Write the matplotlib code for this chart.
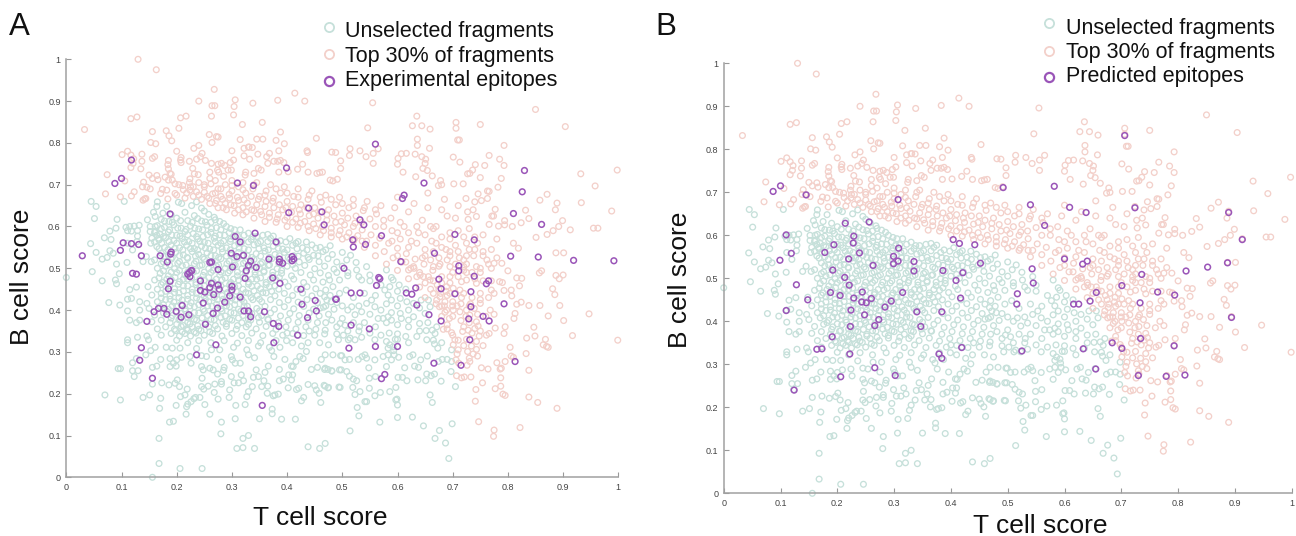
import numpy as np
import matplotlib
matplotlib.use('Agg')
import matplotlib.pyplot as plt
from matplotlib.lines import Line2D

plt.rcParams['font.family'] = ['Liberation Sans', 'DejaVu Sans']

# fragments (T cell score, B cell score), the same cloud sits in both panels
unselected = np.array([
    # sparse left and lower edge
    (0,.478),(.045,.66),(.054,.648),(.051,.619),(.105,.66),(.092,.617),(.09,.596),(.079,.589),(.069,.573),(.081,.569),
    (.044,.559),(.054,.538),(.079,.542),(.065,.522),(.074,.526),(.085,.536),(.091,.51),(.11,.514),(.047,.492),(.065,.47),
    (.089,.472),(.091,.463),(.096,.487),(.097,.412),(.077,.418),(.111,.426),(.118,.428),(.111,.398),(.115,.449),(.127,.455),
    (.115,.376),(.133,.42),(.146,.416),(.133,.4),(.127,.37),(.133,.376),(.129,.335),(.111,.329),(.111,.322),(.146,.338),
    (.149,.329),(.161,.311),(.153,.303),(.144,.293),(.171,.282),(.127,.284),(.12,.274),(.13,.255),(.12,.255),(.123,.241),
    (.094,.26),(.098,.26),(.156,.263),(.164,.266),(.156,.223),(.173,.226),(.186,.221),(.197,.225),(.201,.233),(.205,.217),
    (.07,.197),(.098,.185),(.139,.191),(.151,.197),(.171,.189),(.169,.165),(.207,.193),(.215,.197),(.219,.211),(.199,.172),
    (.234,.191),(.242,.191),(.251,.174),(.231,.188),(.226,.181),(.22,.175),(.218,.169),(.217,.151),(.26,.151),(.187,.132),
    (.194,.134),(.281,.132),(.28,.104),(.306,.14),(.307,.172),(.324,.174),(.32,.093),(.33,.1),(.309,.069),(.32,.071),
    (.341,.069),(.168,.093),(.168,.033),(.206,.021),(.246,.021),(.156,0),(.35,.14),(.39,.139),(.415,.139),(.373,.152),
    (.373,.163),(.438,.073),(.459,.069),(.469,.081),(.426,.183),(.43,.191),(.461,.179),(.438,.222),(.45,.219),(.453,.209),
    (.458,.201),(.467,.22),(.475,.215),(.494,.216),(.402,.214),(.417,.21),(.421,.213),(.408,.233),(.41,.245),(.403,.245),
    (.393,.235),(.386,.231),(.378,.197),(.375,.195),(.384,.199),(.364,.201),(.354,.217),(.365,.218),(.358,.231),(.337,.217),
    (.327,.193),(.33,.205),(.321,.231),(.312,.226),(.304,.226),(.296,.209),(.295,.191),(.268,.203),(.275,.187),(.257,.218),
    (.245,.217),(.249,.211),(.246,.237),(.269,.223),(.281,.223),(.281,.229),(.274,.247),(.266,.257),(.286,.263),(.285,.256),
    (.299,.241),(.317,.245),(.339,.239),(.348,.241),(.344,.257),(.36,.251),(.366,.266),(.386,.258),(.411,.265),(.396,.282),
    (.376,.289),(.372,.303),(.341,.286),(.33,.293),(.306,.273),(.315,.273),(.301,.281),(.299,.289),(.275,.282),(.254,.289),
    (.245,.265),(.248,.257),(.26,.261),(.226,.273),(.209,.287),(.2,.281),(.188,.265),(.188,.284),(.194,.273),(.199,.266),
    (.181,.311),(.192,.309),(.206,.309),(.224,.289),(.245,.291),(.236,.308),(.263,.305),(.278,.305),(.303,.311),(.327,.305),
    (.348,.314),(.368,.311),(.387,.311),(.399,.327),(.426,.314),(.435,.301),(.423,.289),(.429,.284),(.416,.277),(.408,.266),
    (.444,.258),(.455,.263),(.469,.261),(.481,.254),(.495,.257),(.462,.282),(.469,.293),(.483,.293),(.497,.291),(.438,.322),
    (.459,.322),(.475,.317),(.469,.352),(.49,.343),(.493,.329),
    # right hand side
    (.693,.045),(.687,.082),(.668,.093),(.676,.112),(.699,.128),(.647,.123),(.627,.144),(.6,.143),(.568,.132),(.514,.111),
    (.53,.147),(.527,.167),(.541,.181),(.544,.181),(.599,.187),(.6,.173),(.597,.185),(.663,.179),(.659,.197),(.705,.217),
    (.496,.215),(.469,.218),(.474,.214),(.519,.215),(.523,.198),(.532,.205),(.549,.213),(.559,.195),(.569,.203),(.586,.205),
    (.597,.215),(.52,.235),(.526,.231),(.549,.237),(.56,.241),(.601,.239),(.609,.239),(.617,.231),(.637,.233),(.651,.231),
    (.679,.23),(.667,.247),(.661,.243),(.653,.247),(.697,.253),(.513,.242),(.468,.258),(.474,.258),(.481,.255),(.498,.257),
    (.508,.253),(.548,.262),(.58,.265),(.613,.262),(.631,.266),(.638,.263),(.505,.281),(.513,.282),(.529,.282),(.536,.289),
    (.541,.293),(.544,.285),(.499,.291),(.559,.281),(.574,.289),(.583,.293),(.589,.281),(.594,.293),(.593,.303),(.583,.309),
    (.602,.287),(.622,.289),(.628,.293),(.642,.281),(.654,.29),(.681,.282),(.69,.282),(.698,.277),(.674,.277),(.653,.329),
    (.673,.309),(.667,.319),(.68,.322),(.698,.305),(.663,.352),(.668,.344),(.652,.351),(.671,.36),(.665,.328),(.635,.337),
    (.615,.337),(.6,.343),(.62,.322),(.58,.325),(.586,.317),(.592,.312),(.596,.33),(.523,.329),(.535,.335),(.511,.329),
    (.514,.333),(.502,.34),(.468,.343),(.559,.329),(.496,.368),(.505,.364),(.481,.376),(.531,.36),(.523,.389),(.565,.38),
    (.574,.38),(.583,.384),(.589,.376),(.589,.394),(.605,.392),(.607,.38),(.62,.376),(.629,.384),(.64,.368),(.65,.392),
    (.659,.408),(.656,.424),(.643,.424),(.629,.416),(.617,.42),(.605,.428),(.583,.436),(.589,.424),(.577,.448),(.586,.456),
    (.589,.478),(.58,.496),(.592,.472),(.553,.424),(.544,.416),(.559,.408),(.535,.396),(.517,.408),(.468,.432),(.483,.456),
    (.495,.472),(.477,.472),(.507,.448),(.526,.496),(.544,.504),(.55,.484),(.535,.472),(.603,.46),(.615,.45),(.6,.41),
    (.51,.49),(.53,.48),(.55,.47),(.57,.46),(.6,.445),(.52,.43),(.54,.44),(.56,.435),(.58,.415),(.62,.4),(.64,.405),(.51,.4),
    (.53,.41),(.55,.39),(.57,.4),(.58,.37),(.6,.365),(.62,.36),(.64,.35),(.655,.37),(.54,.37),(.56,.36),(.52,.37),(.5,.38),
    (.6,.33),(.585,.345),(.57,.34),(.55,.345),(.53,.35),(.51,.35),(.49,.36),(.47,.37),(.5,.41),(.48,.42),(.47,.41),(.46,.405),
    (.44,.35),(.45,.34),(.42,.34),(.4,.345),
    # dense core, read row by row
    (.182,.648),(.203,.658),(.209,.655),(.227,.65),(.236,.659),(.245,.644),(.175,.632),(.19,.628),(.215,.634),(.232,.626),
    (.25,.637),(.258,.629),(.268,.622),(.172,.617),(.186,.612),(.2,.62),(.22,.614),(.238,.619),(.252,.611),(.27,.616),
    (.285,.607),(.165,.602),(.178,.598),(.195,.604),(.208,.596),(.225,.601),(.24,.594),(.255,.603),(.272,.597),(.29,.6),
    (.305,.592),(.108,.598),(.115,.6),(.123,.601),(.132,.603),(.111,.59),(.118,.589),(.129,.59),(.129,.577),(.128,.564),
    (.12,.544),(.111,.56),(.147,.616),(.158,.634),(.161,.624),(.165,.659),(.164,.648),(.152,.6),(.161,.6),(.152,.588),
    (.161,.588),(.155,.572),(.167,.572),(.153,.56),(.164,.552),(.145,.528),(.154,.516),(.139,.516),
    (.16,.586),(.17,.581),(.185,.587),(.2,.579),(.215,.588),(.23,.583),(.248,.576),(.262,.586),(.278,.58),(.295,.585),
    (.31,.578),(.33,.584),(.345,.576),(.365,.581),(.168,.568),(.18,.573),(.195,.566),(.21,.571),(.222,.564),(.238,.57),
    (.25,.562),(.268,.572),(.285,.565),(.298,.57),(.318,.563),(.335,.569),(.352,.564),(.37,.572),(.388,.566),(.405,.571),
    (.42,.564),(.178,.55),(.19,.556),(.205,.549),(.218,.555),(.232,.547),(.245,.553),(.26,.546),(.275,.555),(.29,.549),
    (.305,.554),(.322,.547),(.34,.556),(.358,.549),(.375,.553),(.392,.546),(.41,.555),(.428,.549),(.445,.556),(.46,.55),
    (.478,.554),(.172,.536),(.185,.531),(.198,.538),(.212,.532),(.228,.54),(.24,.533),(.255,.537),(.27,.53),(.283,.539),
    (.298,.532),(.312,.538),(.328,.53),(.344,.535),(.36,.541),(.378,.533),(.395,.538),(.412,.53),(.43,.536),(.448,.531),
    (.465,.54),(.482,.533),(.5,.538),(.515,.531),(.16,.52),(.176,.515),(.19,.522),(.205,.516),(.22,.524),(.235,.517),
    (.25,.522),(.265,.515),(.28,.523),(.295,.517),(.31,.524),(.325,.516),(.34,.521),(.355,.514),(.372,.523),(.39,.516),
    (.405,.522),(.422,.515),(.44,.521),(.458,.516),(.474,.523),(.49,.515),(.508,.52),(.525,.514),(.165,.5),(.18,.505),
    (.196,.499),(.21,.506),(.226,.5),(.242,.507),(.258,.499),(.272,.505),(.288,.5),(.303,.507),(.318,.499),(.333,.505),
    (.35,.5),(.366,.507),(.382,.499),(.4,.505),(.415,.5),(.432,.507),(.45,.499),(.468,.505),(.485,.498),(.5,.505),
    (.17,.488),(.185,.482),(.2,.49),(.215,.484),(.23,.491),(.248,.483),(.262,.49),(.278,.484),(.293,.489),(.31,.482),
    (.325,.49),(.342,.484),(.358,.491),(.374,.483),(.39,.488),(.408,.482),(.425,.49),(.442,.484),(.46,.489),(.475,.483),
    (.49,.49),(.51,.482),(.16,.472),(.175,.466),(.19,.473),(.205,.468),(.22,.474),(.235,.466),(.25,.472),(.266,.467),
    (.282,.473),(.298,.466),(.312,.472),(.33,.467),(.345,.474),(.362,.466),(.38,.472),(.396,.467),(.412,.474),(.43,.466),
    (.448,.472),(.465,.467),(.148,.456),(.165,.45),(.18,.457),(.196,.451),(.212,.458),(.228,.45),(.242,.456),(.258,.45),
    (.272,.457),(.288,.451),(.305,.456),(.32,.45),(.336,.457),(.352,.451),(.368,.456),(.385,.45),(.402,.457),(.418,.45),
    (.436,.456),(.452,.451),(.47,.448),(.155,.436),(.172,.44),(.188,.434),(.204,.441),(.22,.435),(.236,.44),(.25,.434),
    (.265,.44),(.282,.435),(.298,.441),(.314,.434),(.33,.44),(.346,.435),(.362,.441),(.378,.434),(.395,.44),(.41,.435),
    (.428,.441),(.445,.434),(.46,.44),(.478,.435),(.495,.44),(.165,.42),(.18,.425),(.195,.419),(.21,.424),(.226,.418),
    (.242,.425),(.258,.42),(.274,.425),(.29,.418),(.306,.424),(.322,.419),(.338,.425),(.354,.42),(.37,.425),(.386,.418),
    (.402,.424),(.42,.419),(.436,.425),(.455,.418),(.472,.424),(.49,.418),(.15,.404),(.17,.408),(.185,.402),(.2,.409),
    (.215,.403),(.232,.408),(.248,.402),(.264,.409),(.28,.403),(.296,.408),(.312,.402),(.328,.409),(.345,.404),(.36,.409),
    (.377,.402),(.395,.408),(.412,.403),(.43,.409),(.448,.402),(.466,.407),(.485,.402),(.16,.388),(.176,.393),(.192,.387),
    (.208,.392),(.225,.386),(.24,.393),(.256,.387),(.272,.392),(.288,.386),(.304,.393),(.32,.387),(.336,.392),(.354,.387),
    (.37,.393),(.388,.386),(.405,.392),(.422,.387),(.44,.393),(.458,.386),(.475,.39),(.155,.372),(.172,.376),(.188,.37),
    (.204,.377),(.22,.371),(.236,.376),(.252,.37),(.268,.377),(.284,.371),(.3,.376),(.318,.37),(.334,.376),(.35,.371),
    (.366,.377),(.384,.37),(.402,.376),(.42,.371),(.438,.376),(.455,.37),(.165,.355),(.18,.36),(.196,.354),(.208,.361),
    (.218,.355),(.228,.36),(.24,.354),(.258,.36),(.274,.355),(.29,.361),(.308,.354),(.326,.36),(.344,.355),(.362,.361),
    (.38,.354),(.398,.36),(.416,.355),(.434,.36),(.452,.354),(.172,.34),(.19,.344),(.205,.338),(.215,.344),(.225,.338),
    (.235,.345),(.25,.34),(.265,.344),(.282,.338),(.3,.344),(.318,.339),(.336,.345),(.356,.339),(.374,.344),(.392,.34),
    (.41,.344),(.43,.339),(.2,.328),(.22,.322),(.24,.327),(.262,.322),(.286,.327),(.31,.321),(.33,.327),(.352,.322),
    (.38,.327),(.41,.322),
    # second pass over the core, where the rings overlap
    (.178,.613),(.192,.61),(.207,.614),(.228,.61),(.245,.613),(.262,.61),(.278,.612),(.172,.595),(.187,.592),(.202,.596),
    (.217,.593),(.233,.596),(.247,.592),(.263,.595),(.28,.592),(.298,.595),(.315,.592),(.164,.579),(.176,.576),(.191,.58),
    (.206,.577),(.22,.58),(.236,.576),(.256,.58),(.27,.577),(.287,.579),(.303,.576),(.322,.579),(.338,.576),(.356,.579),
    (.375,.577),(.16,.563),(.173,.56),(.186,.564),(.2,.56),(.214,.563),(.228,.56),(.242,.564),(.257,.56),(.27,.563),
    (.28,.56),(.297,.564),(.312,.56),(.33,.563),(.347,.56),(.365,.564),(.382,.56),(.398,.563),(.416,.56),(.435,.563),
    (.168,.547),(.184,.544),(.197,.548),(.211,.544),(.225,.547),(.238,.544),(.252,.548),(.267,.544),(.282,.547),(.297,.544),
    (.313,.548),(.33,.544),(.349,.547),(.366,.544),(.384,.548),(.4,.544),(.418,.547),(.436,.544),(.452,.548),(.47,.544),
    (.178,.529),(.192,.526),(.205,.53),(.219,.526),(.234,.529),(.247,.526),(.262,.53),(.276,.526),(.29,.529),(.304,.526),
    (.32,.53),(.336,.526),(.352,.529),(.368,.526),(.386,.53),(.402,.526),(.42,.529),(.438,.526),(.456,.53),(.172,.511),
    (.187,.508),(.202,.512),(.217,.508),(.232,.511),(.246,.508),(.261,.512),(.276,.508),(.291,.511),(.306,.508),(.321,.512),
    (.337,.508),(.352,.511),(.368,.508),(.385,.512),(.41,.509),(.176,.494),(.19,.491),(.205,.495),(.22,.491),(.236,.494),
    (.25,.491),(.266,.495),(.28,.491),(.296,.494),(.31,.491),(.326,.495),(.342,.491),(.358,.494),(.374,.491),(.39,.495),
    (.168,.477),(.182,.474),(.197,.478),(.212,.474),(.227,.477),(.242,.474),(.258,.478),(.272,.474),(.288,.477),(.303,.474),
    (.32,.478),(.336,.474),(.352,.477),(.37,.474),(.386,.478),(.172,.461),(.187,.458),(.203,.462),(.22,.458),(.235,.461),
    (.25,.458),(.265,.462),(.28,.458),(.296,.461),(.312,.458),(.33,.462),(.346,.458),(.362,.461),(.378,.458),(.18,.445),
    (.196,.442),(.212,.446),(.228,.442),(.244,.445),(.26,.442),(.276,.446),(.292,.442),(.308,.445),(.325,.442),(.34,.446),
    (.356,.442),(.372,.445),(.172,.429),(.188,.426),(.204,.43),(.22,.426),(.236,.429),(.252,.426),(.268,.43),(.284,.426),
    (.3,.429),(.318,.426),(.335,.43),(.35,.426),(.176,.413),(.192,.41),(.208,.414),(.224,.41),(.24,.413),(.256,.41),
    (.272,.414),(.29,.41),(.305,.413),(.322,.41),(.182,.397),(.2,.394),(.216,.398),(.232,.394),(.25,.397),(.266,.394),
    (.282,.398),(.298,.394),(.316,.397),(.332,.394),(.35,.398),(.19,.381),(.206,.378),(.22,.382),(.232,.378),(.246,.381),
    (.262,.378),(.28,.382),(.296,.378),(.312,.381),(.33,.378),(.348,.382),(.365,.378),(.2,.366),(.212,.363),(.224,.367),
    (.238,.363),(.252,.366),(.27,.363),(.29,.367),(.31,.363),(.33,.366),(.198,.351),(.21,.348),(.22,.352),(.232,.348),
    (.244,.351),(.26,.348),
])

top30 = np.array([
    # sparse top
    (.13,1),(.163,.975),(.033,.832),(.268,.928),(.24,.9),(.264,.889),(.269,.889),(.263,.864),(.306,.903),(.304,.887),
    (.303,.867),(.319,.844),(.338,.895),(.383,.902),(.414,.919),(.432,.9),(.355,.849),(.117,.858),(.128,.862),(.207,.86),
    (.217,.864),(.204,.835),(.156,.827),(.181,.829),(.186,.817),(.191,.805),(.153,.801),(.162,.798),(.259,.82),(.272,.815),
    (.275,.814),(.264,.801),(.315,.808),(.345,.809),(.356,.809),(.38,.806),(.388,.826),(.395,.798),(.453,.811),(.436,.781),
    (.437,.777),(.481,.778),(.488,.777),(.385,.781),(.231,.787),(.24,.794),(.33,.79),(.322,.787),(.337,.789),(.331,.79),
    (.3,.781),(.347,.773),(.322,.769),(.332,.761),(.101,.772),(.111,.78),(.117,.771),(.122,.762),(.121,.751),(.117,.741),
    (.137,.773),(.137,.756),(.135,.738),(.156,.763),(.16,.767),(.2,.78),(.185,.758),(.184,.748),(.185,.738),(.188,.727),
    (.19,.725),(.208,.765),(.207,.759),(.208,.753),(.223,.756),(.236,.761),(.243,.767),(.246,.775),(.252,.758),(.263,.751),
    (.275,.749),(.281,.751),(.287,.746),(.297,.753),(.303,.759),(.293,.735),(.299,.735),(.229,.739),(.232,.726),(.239,.724),
    (.26,.73),(.274,.735),(.276,.73),(.325,.73),(.324,.723),(.34,.727),(.348,.739),(.353,.735),(.363,.767),(.368,.775),
    (.365,.751),(.376,.756),(.383,.756),(.388,.758),(.394,.753),(.402,.731),(.385,.73),(.419,.737),(.428,.749),(.438,.73),
    (.454,.727),(.459,.729),(.464,.73),(.478,.711),(.483,.709),(.491,.713),(.074,.724),(.071,.678),(.106,.709),(.098,.671),
    (.118,.673),(.123,.683),(.14,.706),(.138,.695),(.146,.694),(.152,.69),(.139,.663),(.144,.667),(.142,.666),(.15,.723),
    (.156,.715),(.164,.722),(.166,.712),(.179,.718),(.185,.711),(.192,.711),(.197,.702),(.174,.689),(.171,.679),(.182,.687),
    (.197,.679),(.2,.675),(.184,.666),(.204,.7),(.211,.698),(.224,.714),(.223,.705),(.225,.695),(.224,.687),(.236,.683),
    # right of the band, upper half
    (.555,.896),(.85,.88),(.635,.864),(.904,.839),(.627,.841),(.644,.841),(.659,.833),(.546,.836),(.706,.849),(.706,.835),
    (.75,.844),(.636,.809),(.636,.794),(.658,.787),(.709,.807),(.712,.807),(.793,.794),(.565,.786),(.514,.786),(.532,.781),
    (.513,.77),(.543,.767),(.556,.775),(.497,.757),(.556,.751),(.497,.739),(.601,.763),(.607,.774),(.616,.775),(.632,.773),
    (.644,.767),(.651,.761),(.65,.751),(.6,.749),(.61,.73),(.646,.739),(.654,.734),(.663,.721),(.633,.719),(.701,.766),
    (.713,.754),(.766,.77),(.785,.761),(.793,.746),(.758,.746),(.741,.748),(.736,.735),(.731,.727),(.727,.726),(.75,.717),
    (.788,.715),(.932,.726),(.998,.735),(.958,.697),(.678,.71),(.674,.698),(.68,.7),(.702,.702),(.719,.702),(.782,.694),
    (.746,.678),(.763,.685),(.766,.684),(.724,.667),(.74,.659),(.752,.662),(.763,.667),(.871,.677),(.858,.663),(.933,.657),
    (.889,.656),(.886,.64),(.988,.637),(.832,.639),(.838,.619),(.899,.614),(.892,.6),(.882,.59),(.871,.581),(.913,.592),
    (.955,.596),(.963,.596),(.851,.574),(.777,.641),(.771,.625),(.774,.625),(.737,.64),(.727,.635),(.743,.624),(.728,.617),
    (.766,.605),(.794,.614),(.794,.604),(.808,.6),(.824,.609),(.783,.601),(.887,.537),(.901,.537),(.81,.56),(.819,.548),
    # right side, lower half
    (.789,.512),(.8,.494),(.816,.477),(.825,.476),(.857,.489),(.861,.494),(.887,.483),(.9,.484),(.893,.475),(.821,.458),
    (.806,.448),(.807,.434),(.793,.447),(.785,.468),(.79,.466),(.881,.451),(.885,.437),(.824,.419),(.816,.414),(.838,.411),
    (.858,.411),(.894,.411),(.947,.391),(.873,.386),(.901,.375),(.813,.392),(.811,.38),(.777,.357),(.795,.36),(.793,.344),
    (.847,.359),(.849,.338),(.834,.333),(.917,.339),(.868,.33),(.864,.317),(.87,.313),(.873,.311),(.999,.328),(.804,.311),
    (.806,.29),(.81,.287),(.833,.296),(.78,.274),(.795,.277),(.788,.261),(.786,.259),(.752,.262),(.764,.259),(.838,.256),
    (.707,.243),(.716,.238),(.721,.24),(.733,.24),(.754,.226),(.787,.238),(.787,.218),(.777,.212),(.742,.21),(.791,.199),
    (.795,.196),(.741,.182),(.838,.192),(.854,.179),(.889,.165),(.747,.133),(.822,.119),(.775,.113),(.774,.098),
    (.683,.354),(.698,.346),(.704,.329),(.701,.317),(.71,.328),(.718,.349),(.728,.352),(.74,.356),(.748,.338),(.761,.34),
    (.766,.344),(.743,.325),(.734,.314),(.743,.306),(.727,.301),(.737,.295),(.706,.281),(.711,.273),(.726,.268),(.731,.277),
    (.708,.295),(.671,.424),(.686,.42),(.676,.408),(.689,.4),(.701,.4),(.713,.396),(.725,.4),(.739,.404),(.75,.416),
    (.768,.4),(.743,.372),(.746,.362),(.731,.388),(.695,.44),(.713,.448),(.677,.432),(.75,.44),(.77,.448),(.775,.44),
    (.689,.456),(.701,.452),(.743,.464),(.725,.472),(.716,.468),(.647,.48),(.659,.472),(.641,.484),(.62,.496),(.629,.504),
    (.665,.504),(.677,.51),(.695,.504),(.72,.504),(.743,.504),(.77,.5),(.775,.512),
    # dense band along the cut, left to right
    (.24,.675),(.25,.682),(.258,.668),(.265,.678),(.272,.662),(.28,.672),(.288,.655),(.296,.668),(.304,.65),(.312,.662),
    (.32,.645),(.328,.656),(.336,.64),(.345,.652),(.352,.636),(.36,.648),(.368,.632),(.376,.645),(.384,.628),(.392,.64),
    (.4,.622),(.408,.634),(.416,.618),(.424,.63),(.432,.612),(.44,.626),(.448,.606),(.456,.62),(.464,.6),(.472,.615),
    (.48,.596),(.488,.61),(.496,.59),(.504,.604),(.512,.585),(.52,.6),(.528,.578),(.536,.592),(.544,.565),(.552,.58),
    (.56,.555),(.568,.572),(.576,.54),(.584,.56),(.592,.525),(.6,.548),(.608,.515),(.616,.535),(.624,.5),(.632,.522),
    (.64,.49),(.648,.51),(.656,.48),(.664,.495),(.672,.46),(.68,.48),(.688,.445),(.695,.465),(.686,.395),(.694,.38),
    (.678,.44),(.7,.42),(.708,.41),(.716,.43),(.724,.385),(.732,.415),(.68,.385),(.69,.365),
    (.25,.695),(.262,.702),(.275,.69),(.288,.7),(.3,.685),(.312,.695),(.325,.68),(.338,.69),(.35,.672),(.362,.685),
    (.375,.668),(.388,.68),(.4,.66),(.412,.672),(.425,.652),(.438,.665),(.45,.645),(.462,.658),(.475,.64),(.488,.652),
    (.5,.632),(.512,.645),(.525,.625),(.538,.638),(.55,.618),(.562,.63),(.575,.6),(.588,.62),(.6,.585),(.612,.6),
    (.625,.565),(.638,.585),(.65,.545),(.662,.565),(.675,.525),(.688,.545),(.7,.49),(.712,.525),(.725,.51),(.738,.53),
    (.75,.49),(.762,.52),(.26,.655),(.275,.645),(.29,.64),(.305,.632),(.32,.628),(.34,.62),(.36,.612),(.38,.61),
    (.4,.6),(.42,.598),(.44,.59),(.46,.58),(.48,.575),(.5,.57),(.52,.565),(.54,.55),(.56,.53),(.58,.51),(.6,.495),
    (.62,.475),(.64,.455),(.65,.43),(.665,.44),(.68,.41),
    (.3,.71),(.32,.705),(.345,.705),(.37,.7),(.395,.695),(.42,.69),(.445,.685),(.47,.675),(.495,.67),(.52,.665),
    (.545,.66),(.57,.65),(.595,.645),(.62,.635),(.645,.615),(.67,.6),(.695,.585),(.72,.575),(.745,.56),(.77,.545),
    (.6,.67),(.63,.655),(.655,.645),(.68,.64),(.705,.62),(.73,.595),(.755,.58),(.78,.57),(.655,.68),(.685,.665),
    (.71,.65),(.69,.625),(.66,.6),(.705,.555),(.73,.545),(.755,.54),(.78,.525),(.67,.56),(.695,.53),(.72,.495),
    # second pass over the band
    (.245,.665),(.255,.672),(.27,.68),(.283,.665),(.295,.677),(.31,.67),(.322,.664),(.335,.672),(.348,.665),(.362,.66),
    (.374,.66),(.386,.652),(.398,.645),(.41,.648),(.422,.64),(.436,.645),(.448,.63),(.46,.635),(.472,.628),(.485,.625),
    (.498,.612),(.51,.62),(.523,.608),(.535,.61),(.27,.655),(.284,.645),(.298,.652),(.312,.64),(.326,.635),(.34,.638),
    (.354,.628),(.368,.622),(.382,.618),(.396,.615),(.41,.61),(.424,.608),(.438,.6),(.452,.595),(.466,.59),(.48,.585),
    (.494,.58),(.508,.575),(.522,.57),(.536,.565),(.28,.69),(.3,.698),(.32,.688),(.34,.7),(.36,.675),(.38,.69),(.4,.68),
    (.42,.67),(.44,.675),(.46,.67),(.48,.665),(.5,.655),(.52,.65),(.54,.645),(.56,.64),(.56,.6),(.575,.615),(.59,.59),
    (.605,.61),(.62,.585),(.635,.6),(.65,.58),(.665,.595),(.68,.575),(.695,.57),(.71,.59),(.725,.56),(.74,.575),(.59,.565),
    (.605,.57),(.62,.55),(.635,.56),(.65,.53),(.665,.54),(.68,.55),(.695,.54),(.71,.54),(.725,.53),(.74,.545),(.755,.53),
    (.6,.53),(.615,.515),(.63,.5),(.645,.525),(.66,.52),(.675,.505),(.69,.52),(.705,.51),(.72,.52),(.735,.49),(.75,.5),
    (.765,.51),(.635,.48),(.65,.465),(.665,.47),(.68,.465),(.695,.48),(.71,.48),(.725,.49),(.74,.475),(.755,.47),(.77,.47),
    (.66,.45),(.675,.45),(.69,.435),(.705,.44),(.72,.44),(.735,.43),(.75,.425),(.765,.43),(.67,.415),(.685,.41),(.7,.41),
    (.715,.415),(.73,.41),(.745,.39),(.76,.385),(.775,.39),(.7,.385),(.715,.375),(.73,.37),(.72,.36),(.735,.345),(.75,.35),
    (.755,.315),(.725,.33),(.72,.315),(.71,.305),(.7,.34),(.69,.355),(.73,.285),(.745,.29),(.212,.688),(.218,.68),(.23,.695),
    (.24,.705),(.215,.668),(.23,.672),(.25,.7),(.26,.715),(.27,.71),(.285,.72),
])

# purple marks of panel A
experimental = np.array([
    (.118,.759),(.088,.703),(.1,.715),(.188,.63),(.029,.53),(.103,.561),(.118,.559),(.131,.557),(.098,.543),(.136,.53),
    (.17,.53),(.19,.539),(.189,.534),(.183,.515),(.31,.704),(.339,.698),(.399,.74),(.403,.633),(.439,.644),(.463,.635),
    (.467,.604),(.342,.584),(.306,.576),(.315,.563),(.38,.563),(.299,.536),(.309,.528),(.321,.531),(.334,.517),(.33,.507),
    (.26,.514),(.263,.515),(.301,.503),(.367,.522),(.386,.522),(.386,.515),(.392,.512),(.409,.528),(.412,.522),(.409,.518),
    (.344,.502),(.275,.497),(.227,.495),(.12,.488),(.127,.486),(.188,.469),(.185,.451),(.22,.486),(.224,.48),(.227,.494),
    (.223,.49),(.243,.47),(.243,.447),(.251,.443),(.26,.454),(.263,.464),(.275,.46),(.277,.45),(.267,.437),(.248,.417),
    (.21,.411),(.159,.396),(.167,.404),(.177,.404),(.182,.39),(.199,.397),(.208,.383),(.222,.389),(.266,.392),(.274,.405),
    (.287,.419),(.296,.434),(.3,.448),(.3,.457),(.315,.431),(.324,.476),(.326,.494),(.374,.477),(.387,.464),(.425,.45),
    (.427,.414),(.451,.423),(.488,.426),(.453,.398),(.437,.382),(.419,.34),(.375,.368),(.385,.361),(.376,.322),(.359,.396),
    (.334,.384),(.33,.398),(.322,.398),(.252,.366),(.271,.317),(.236,.293),(.146,.373),(.136,.31),(.133,.28),(.156,.237),
    (.355,.172),(.56,.797),(.648,.704),(.612,.675),(.609,.667),(.532,.616),(.539,.604),(.571,.578),(.519,.568),(.52,.551),
    (.542,.557),(.503,.5),(.606,.516),(.667,.536),(.704,.581),(.739,.568),(.711,.506),(.83,.734),(.826,.683),(.81,.631),
    (.861,.605),(.805,.529),(.855,.527),(.919,.519),(.992,.518),(.566,.478),(.568,.475),(.562,.459),(.516,.441),(.532,.441),
    (.489,.426),(.616,.441),(.626,.438),(.633,.453),(.635,.412),(.675,.474),(.679,.451),(.704,.439),(.711,.494),(.739,.481),
    (.765,.47),(.761,.463),(.733,.444),(.733,.408),(.793,.415),(.657,.389),(.679,.374),(.729,.379),(.755,.385),(.766,.374),
    (.516,.364),(.549,.355),(.512,.309),(.56,.313),(.6,.313),(.731,.329),(.666,.273),(.715,.268),(.813,.277),(.577,.246),
    (.571,.236),
])

# purple marks of panel B
predicted = np.array([
    (.087,.702),(.1,.715),(.145,.694),(.307,.683),(.214,.628),(.256,.631),(.11,.601),(.229,.598),(.228,.582),(.194,.578),
    (.119,.558),(.099,.542),(.178,.56),(.22,.545),(.239,.559),(.308,.57),(.299,.551),(.299,.534),(.307,.54),(.263,.53),
    (.335,.539),(.335,.517),(.404,.59),(.415,.581),(.442,.578),(.452,.535),(.192,.519),(.386,.518),(.213,.502),(.221,.484),
    (.128,.485),(.188,.467),(.205,.46),(.229,.454),(.244,.468),(.243,.445),(.251,.443),(.26,.453),(.421,.513),(.409,.495),
    (.417,.454),(.315,.467),(.295,.447),(.284,.433),(.224,.426),(.248,.415),(.34,.422),(.384,.422),(.273,.404),(.266,.39),
    (.223,.388),(.347,.388),(.148,.45),(.11,.425),(.191,.364),(.164,.335),(.173,.336),(.222,.324),(.379,.324),(.384,.314),
    (.419,.339),(.266,.292),(.206,.271),(.302,.274),(.124,.24),(.706,.832),(.492,.711),(.582,.714),(.54,.671),(.609,.665),
    (.638,.653),(.724,.664),(.565,.623),(.889,.653),(.913,.59),(.6,.545),(.64,.54),(.632,.533),(.543,.522),(.852,.526),
    (.887,.536),(.814,.517),(.545,.489),(.517,.464),(.516,.44),(.656,.467),(.645,.447),(.616,.44),(.625,.44),(.701,.483),
    (.736,.509),(.764,.468),(.794,.461),(.733,.443),(.894,.409),(.734,.36),(.684,.35),(.701,.337),(.793,.343),(.633,.336),
    (.525,.331),(.655,.289),(.73,.274),(.779,.272),(.812,.275),
])

tick_values = np.arange(0, 1.01, 0.1)
tick_labels = ['0', '0.1', '0.2', '0.3', '0.4', '0.5', '0.6', '0.7', '0.8', '0.9', '1']
legend_labels_a = ['Unselected fragments', 'Top 30% of fragments', 'Experimental epitopes']
legend_labels_b = ['Unselected fragments', 'Top 30% of fragments', 'Predicted epitopes']

green = '#c6e0da'
pink = '#f3d0ca'
purple = '#9a55b8'
W, H = 1296, 536


def make_panel(fig, left, right, top, bottom, epitopes):
    ax = fig.add_axes([left/W, 1-bottom/H, (right-left)/W, (bottom-top)/H])
    ax.scatter(unselected[:, 0], unselected[:, 1], s=17, facecolors='none', edgecolors=green, linewidths=0.95, clip_on=False)
    ax.scatter(top30[:, 0], top30[:, 1], s=17, facecolors='none', edgecolors=pink, linewidths=0.95, clip_on=False)
    ax.scatter(epitopes[:, 0], epitopes[:, 1], s=17, facecolors='none', edgecolors=purple, linewidths=1.1, clip_on=False)
    ax.set_xlim(0, 1)
    ax.set_ylim(0, 1)
    ax.set_xticks(tick_values, tick_labels)
    ax.set_yticks(tick_values, tick_labels)
    ax.tick_params(direction='in', length=3.5, width=0.8, color='#999999', labelsize=6.5, labelcolor='#444444', pad=4)
    for side in ['top', 'right']:
        ax.spines[side].set_visible(False)
    for side in ['left', 'bottom']:
        ax.spines[side].set_color('#a0a0a0')
        ax.spines[side].set_linewidth(1.1)
    return ax


def px_text(fig, x, y, s, size, **kw):
    fig.text(x/W, 1-y/H, s, fontsize=size, color='#111111', **kw)


def legend_row(fig, mx, my, tx, ty, label, color, lw):
    fig.add_artist(Line2D([mx/W], [1-my/H], marker='o', ms=6.6, mfc='none', mec=color, mew=lw, ls='none', transform=fig.transFigure))
    px_text(fig, tx, ty, label, 15.5, va='baseline', ha='left')


fig = plt.figure(figsize=(W/100, H/100), dpi=100)
make_panel(fig, 66.3, 618.3, 59.3, 477.3, experimental)
make_panel(fig, 723.7, 1291.7, 63.3, 493.3, predicted)

px_text(fig, 9, 35, 'A', 22.5, va='baseline', ha='left')
px_text(fig, 655, 35, 'B', 22.5, va='baseline', ha='left')
px_text(fig, 320.5, 525, 'T cell score', 19, va='baseline', ha='center')
px_text(fig, 1040.5, 533, 'T cell score', 19, va='baseline', ha='center')
px_text(fig, 22, 277, 'B cell score', 19, va='center', ha='center', rotation=90)
px_text(fig, 680, 279.5, 'B cell score', 19, va='center', ha='center', rotation=90)

colors = [green, pink, purple]
widths = [1.3, 1.3, 1.6]
for i in range(3):
    legend_row(fig, 329, 27+27*i, 345, [37, 62, 86][i], legend_labels_a[i], colors[i], widths[i])
    legend_row(fig, 1049, [23, 51, 77][i], 1066, [34, 58, 82][i], legend_labels_b[i], colors[i], widths[i])

fig.savefig('out.png', dpi=100)
